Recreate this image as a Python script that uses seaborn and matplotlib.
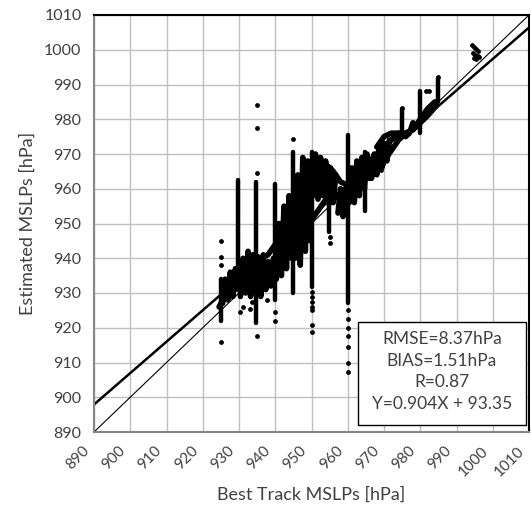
import numpy as np
import pandas as pd
import matplotlib
matplotlib.use("Agg")
import matplotlib.pyplot as plt
import matplotlib.transforms as mtransforms
from matplotlib.patches import Rectangle
import seaborn as sns

# ─── Values ─────────────────────────────────────────────────────
# vertical streaks (one storm held at a best-track value)
col_x  = [925.0, 929.8, 934.8, 940.0, 945.0, 950.0, 954.8, 960.0, 964.8, 974.9, 980.0, 984.9]
col_lo = [922.0, 932.0, 921.5, 928.0, 930.0, 931.7, 947.5, 927.0, 953.5, 977.0, 976.0, 985.0]
col_hi = [934.0, 962.5, 962.0, 961.5, 970.7, 970.5, 962.0, 975.5, 970.5, 983.0, 988.0, 992.0]

# isolated points
dot_x = [925, 925, 925, 925, 935, 935, 935, 935, 940, 940, 945,
         950, 950, 950, 950, 950, 950, 950, 955, 955,
         960, 960, 960, 960, 960, 960, 960,
         930.3, 931, 933, 933.5, 937.6, 975, 985, 981.5, 982.5,
         994.2, 994.8, 995.3, 995.8, 994.5, 995.2, 995.9, 994.8, 995.5, 996.2,
         969.3, 969.8, 970.2]
dot_y = [945, 940.4, 938, 916, 984.1, 977.6, 964.5, 917.6, 921.9, 924.5, 974.3,
         930.3, 928.8, 927.4, 926, 925, 920.8, 918.8, 946, 944.5,
         925, 922.5, 920, 917.5, 914.5, 910, 907.3,
         924.6, 926, 925.4, 927.5, 928, 983.2, 992.3, 988, 988,
         1001.4, 1000.8, 1000.2, 999.5, 999.0, 998.6, 998.2, 997.6, 997.3, 997.9,
         965.5, 967, 968.5]

# dense storm tracks (estimated vs best track along time)
tracks = {
    "band_low": (
        [924.5, 926, 928, 930, 932, 934, 936, 938, 940, 942, 944, 946, 948, 950, 952,
         954, 956, 958, 960, 962, 964, 966, 968, 970, 972, 974, 976, 978, 980, 982, 984.5],
        [926, 929, 931, 933, 933, 934, 935, 936, 938, 940, 942, 945, 948, 951, 954,
         957, 958, 957, 957, 959, 962, 964, 966, 968, 971, 974, 976, 977, 979, 981, 984]),
    "band_high": (
        [926, 928, 930, 932, 934, 936, 938, 940, 942, 944, 946, 948, 950, 952, 954,
         956, 958, 960, 962, 964, 966, 968, 970, 972, 974, 976, 978, 980, 982, 984],
        [932, 935, 937, 940, 941, 940, 941, 944, 950, 954, 957, 962, 966, 968, 967,
         965, 962, 961, 964, 966, 968, 970, 972, 974, 976, 976, 977, 980, 983, 985]),
    "cloud_925": (
        [925.5, 926.2, 926.9, 927.6, 928.3, 929.0, 929.7],
        [927, 934, 928, 936, 929, 937, 931]),
    "cloud_930": (
        [930.4, 931.1, 931.8, 932.5, 933.2, 933.9, 934.6, 935.3, 936.0, 936.7,
         937.4, 938.1, 938.8, 939.5],
        [929, 940, 930, 942, 929, 941, 930, 940, 929, 941, 931, 939, 932, 940]),
    "cloud_940": (
        [940.3, 941.0, 941.7, 942.4, 943.1, 943.8, 944.5],
        [934, 950, 935, 955, 937, 958, 940]),
    "cloud_946": (
        [945.5, 946.2, 946.9, 947.6, 948.3, 949.0, 949.7],
        [940, 964, 938, 969, 942, 968, 945]),
    "cloud_950": (
        [950.4, 951.1, 951.8, 952.5, 953.2, 953.9, 954.6, 955.3, 956.0, 956.7],
        [958, 970, 957, 969, 958, 968, 956, 966, 956, 964]),
    "cloud_957": (
        [957.3, 958.0, 958.7, 959.4],
        [953, 960, 952, 960]),
    "cloud_960": (
        [960.4, 961.1, 961.8, 962.5, 963.2, 963.9, 964.6, 965.3, 966.0],
        [956, 966, 956, 968, 958, 969, 960, 970, 963]),
    "cloud_966": (
        [966.6, 967.3, 968.0, 968.7, 969.4, 970.1, 970.8, 971.5],
        [963, 970, 964, 972, 966, 973, 968, 974]),
    "loop_975": (
        [968, 970, 972, 974, 976, 977, 978],
        [972, 975, 976, 976, 975, 976, 979]),
}

slope, intercept = 0.904, 93.35
stats_lines = ["RMSE=8.37hPa", "BIAS=1.51hPa", "R=0.87", "Y=0.904X + 93.35"]
ticks = list(range(890, 1011, 10))

# ─── Theme ──────────────────────────────────────────────────────
sns.set_style("white")
plt.rcParams["font.family"] = ["Lato", "DejaVu Sans"]
text_col = "#404040"

fig = plt.figure(figsize=(5.31, 5.08), dpi=100)
ax = fig.add_axes([94 / 531, 1 - 432 / 508, 435 / 531, 417 / 508])

track_df = pd.concat(
    [pd.DataFrame({"best": tx, "est": ty, "track": name})
     for name, (tx, ty) in tracks.items()], ignore_index=True)

sns.lineplot(data=track_df, x="best", y="est", units="track", estimator=None,
             sort=False, color="black", lw=4.0, ax=ax, legend=False,
             solid_capstyle="round", solid_joinstyle="round")
ax.vlines(col_x, col_lo, col_hi, color="black", lw=3.2, capstyle="round")
sns.scatterplot(x=dot_x, y=dot_y, color="black", s=12, linewidth=0, ax=ax)

xs = np.array([890, 1010])
ax.plot(xs, xs, color="black", lw=0.8)
ax.plot(xs, slope * xs + intercept, color="black", lw=1.8)

ax.set_xlim(890, 1010)
ax.set_ylim(890, 1010)
ax.set_xticks(ticks)
ax.set_yticks(ticks)
ax.grid(True, color="#bfbfbf", lw=1.0)
ax.set_axisbelow(True)
for side in ["left", "bottom"]:
    ax.spines[side].set_color("#868686")
    ax.spines[side].set_linewidth(1.5)
for side in ["top", "right"]:
    ax.spines[side].set_color("black")
    ax.spines[side].set_linewidth(1.5)

ax.tick_params(axis="both", length=4, width=1, color="#868686",
               labelcolor=text_col, direction="out")
ax.tick_params(axis="y", pad=5, labelsize=11.5)
ax.tick_params(axis="x", pad=8, labelsize=11)
shift = mtransforms.ScaledTranslation(-5 / 72, 0, fig.dpi_scale_trans)
for lab in ax.get_xticklabels():
    lab.set_rotation(45)
    lab.set_ha("right")
    lab.set_va("center")
    lab.set_rotation_mode("anchor")
    lab.set_transform(lab.get_transform() + shift)
ax.set_xlabel("Best Track MSLPs [hPa]", fontsize=13, color=text_col, labelpad=6)
ax.set_ylabel("Estimated MSLPs [hPa]", fontsize=13, color=text_col, labelpad=6)

# statistics box
ax.add_patch(Rectangle((0.607, 0.017), 0.386, 0.247, transform=ax.transAxes,
                       facecolor="white", edgecolor="black", lw=1.0, zorder=5))
for i, line in enumerate(stats_lines):
    ax.text(0.80, 0.222 - i * 0.0515, line, transform=ax.transAxes,
            ha="center", va="center", fontsize=12.5, color=text_col, zorder=6)

fig.savefig("out.png", dpi=100)
